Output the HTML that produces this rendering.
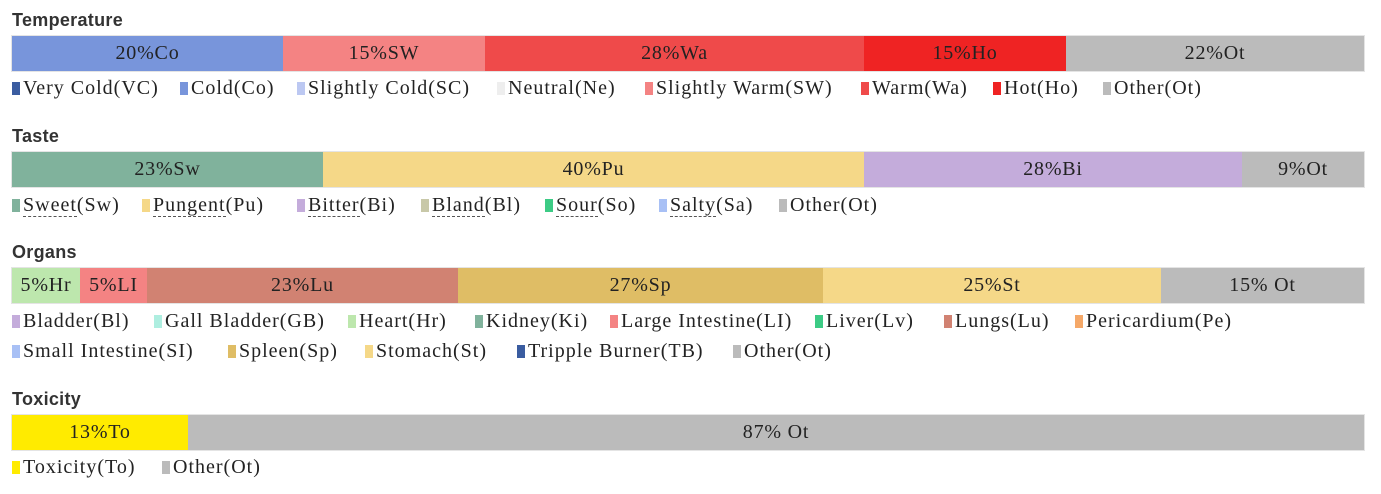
<!DOCTYPE html>
<html><head><meta charset="utf-8"><style>
body{margin:0;width:1381px;height:494px;background:#fff;position:relative;overflow:hidden;font-family:"Liberation Serif",serif;color:#222}
.t{position:absolute;left:12px;font:bold 18px "Liberation Sans",sans-serif;color:#333;letter-spacing:0.3px}
.bar{position:absolute;left:11px;width:1352px;height:35px;display:flex;border:1px solid #e4e4e4;box-sizing:content-box}
.bar div{height:35px;line-height:35px;text-align:center;font-size:20px;color:#222;white-space:nowrap;letter-spacing:0.8px}
.lg{position:absolute;font-size:20px;white-space:nowrap;line-height:22px;letter-spacing:1px}
.lg i{display:inline-block;width:8px;height:13px;margin-right:3px;vertical-align:-1px}
.u{border-bottom:1px dashed #555}
</style></head><body>
<div class="t" style="top:10px">Temperature</div>
<div class="bar" style="top:35px">
<div style="width:271px;background:#7895db">20%Co</div>
<div style="width:202px;background:#f48383">15%SW</div>
<div style="width:379px;background:#ef4a4a">28%Wa</div>
<div style="width:202px;background:#ef2323">15%Ho</div>
<div style="flex:1;background:#bbb">22%Ot</div></div>
<div class="lg" style="top:77px;left:12px"><i style="background:#3a5ca0"></i>Very Cold(VC)</div>
<div class="lg" style="top:77px;left:180px"><i style="background:#7895db"></i>Cold(Co)</div>
<div class="lg" style="top:77px;left:297px"><i style="background:#bcc8f2"></i>Slightly Cold(SC)</div>
<div class="lg" style="top:77px;left:497px"><i style="background:#eee"></i>Neutral(Ne)</div>
<div class="lg" style="top:77px;left:645px"><i style="background:#f48383"></i>Slightly Warm(SW)</div>
<div class="lg" style="top:77px;left:861px"><i style="background:#ef4a4a"></i>Warm(Wa)</div>
<div class="lg" style="top:77px;left:993px"><i style="background:#ef2323"></i>Hot(Ho)</div>
<div class="lg" style="top:77px;left:1103px"><i style="background:#bbb"></i>Other(Ot)</div>

<div class="t" style="top:126px">Taste</div>
<div class="bar" style="top:151px">
<div style="width:311px;background:#80b29c">23%Sw</div>
<div style="width:541px;background:#f5d888">40%Pu</div>
<div style="width:378px;background:#c4acdb">28%Bi</div>
<div style="flex:1;background:#bbb">9%Ot</div></div>
<div class="lg" style="top:194px;left:12px"><i style="background:#80b29c"></i><span class="u">Sweet</span>(Sw)</div>
<div class="lg" style="top:194px;left:142px"><i style="background:#f5d888"></i><span class="u">Pungent</span>(Pu)</div>
<div class="lg" style="top:194px;left:297px"><i style="background:#c4acdb"></i><span class="u">Bitter</span>(Bi)</div>
<div class="lg" style="top:194px;left:421px"><i style="background:#c8c8a8"></i><span class="u">Bland</span>(Bl)</div>
<div class="lg" style="top:194px;left:545px"><i style="background:#3ccb85"></i><span class="u">Sour</span>(So)</div>
<div class="lg" style="top:194px;left:659px"><i style="background:#a8c0f5"></i><span class="u">Salty</span>(Sa)</div>
<div class="lg" style="top:194px;left:779px"><i style="background:#bbb"></i>Other(Ot)</div>

<div class="t" style="top:242px">Organs</div>
<div class="bar" style="top:267px">
<div style="width:68px;background:#bde7ad">5%Hr</div>
<div style="width:67px;background:#f48383">5%LI</div>
<div style="width:311px;background:#d18272">23%Lu</div>
<div style="width:365px;background:#dfbd65">27%Sp</div>
<div style="width:338px;background:#f5d888">25%St</div>
<div style="flex:1;background:#bbb">15% Ot</div></div>
<div class="lg" style="top:310px;left:12px"><i style="background:#c4acdb"></i>Bladder(Bl)</div>
<div class="lg" style="top:310px;left:154px"><i style="background:#aeeee0"></i>Gall Bladder(GB)</div>
<div class="lg" style="top:310px;left:348px"><i style="background:#bde7ad"></i>Heart(Hr)</div>
<div class="lg" style="top:310px;left:475px"><i style="background:#80b29c"></i>Kidney(Ki)</div>
<div class="lg" style="top:310px;left:610px"><i style="background:#f48383"></i>Large Intestine(LI)</div>
<div class="lg" style="top:310px;left:815px"><i style="background:#3ccb85"></i>Liver(Lv)</div>
<div class="lg" style="top:310px;left:944px"><i style="background:#d18272"></i>Lungs(Lu)</div>
<div class="lg" style="top:310px;left:1075px"><i style="background:#f5a868"></i>Pericardium(Pe)</div>
<div class="lg" style="top:340px;left:12px"><i style="background:#a8c0f5"></i>Small Intestine(SI)</div>
<div class="lg" style="top:340px;left:228px"><i style="background:#dfbd65"></i>Spleen(Sp)</div>
<div class="lg" style="top:340px;left:365px"><i style="background:#f5d888"></i>Stomach(St)</div>
<div class="lg" style="top:340px;left:517px"><i style="background:#3a5ca0"></i>Tripple Burner(TB)</div>
<div class="lg" style="top:340px;left:733px"><i style="background:#bbb"></i>Other(Ot)</div>

<div class="t" style="top:389px">Toxicity</div>
<div class="bar" style="top:414px">
<div style="width:176px;background:#ffeb00">13%To</div>
<div style="flex:1;background:#bbb">87% Ot</div></div>
<div class="lg" style="top:456px;left:12px"><i style="background:#ffeb00"></i>Toxicity(To)</div>
<div class="lg" style="top:456px;left:162px"><i style="background:#bbb"></i>Other(Ot)</div>
</body></html>
